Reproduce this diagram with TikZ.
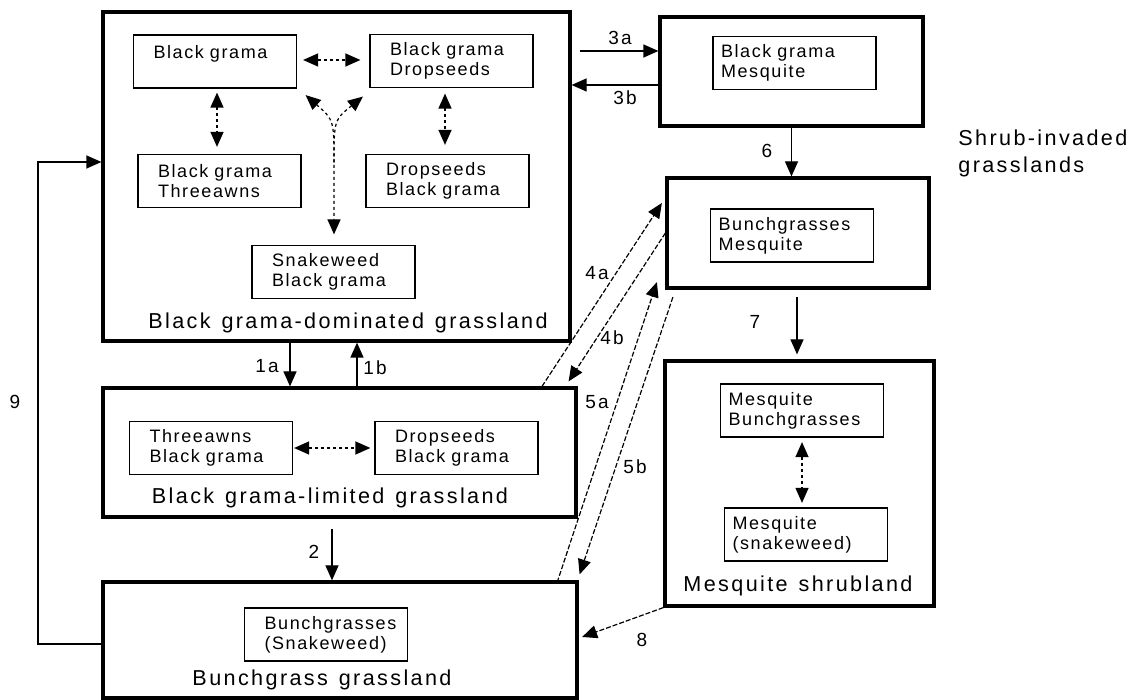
\documentclass[tikz,border=0pt]{standalone}
\usepackage{fontspec}
\setmainfont{Liberation Sans}
\newfontfamily\gridfont{Liberation Sans}[LetterSpace=9,WordSpace=1.8]
\newfontfamily\titlefont{Liberation Sans}[LetterSpace=11,WordSpace=1.3]
\usetikzlibrary{arrows.meta,calc}
\newcommand{\boxsize}{\gridfont\fontsize{9}{10}\selectfont\hyphenpenalty=10000}
\newcommand{\titlesize}{\titlefont\fontsize{10.8}{13.5}\selectfont}
\newcommand{\numsize}{\titlefont\fontsize{9.5}{11}\selectfont}

\begin{document}
\begin{tikzpicture}[
  x=0.5pt,
  y=-0.5pt,
  >={Triangle[length=7.5pt,width=6.5pt]},
  every node/.style={text=black},
  zone/.style={draw, line width=1.6pt, inner sep=0pt},
  stateL/.style={draw, line width=0.6pt, minimum height=26.5pt,
                 inner xsep=10pt, text width=61.5pt, align=left, font=\boxsize},
  stateR/.style={draw, line width=0.6pt, minimum height=26.5pt,
                 inner xsep=4pt, text width=73.5pt, align=left, font=\boxsize},
  zonelabel/.style={font=\titlesize, inner sep=0pt},
  numlabel/.style={font=\numsize, inner sep=0pt},
  conn/.style={line width=0.6pt, ->},
  dashconn/.style={line width=0.6pt, ->, dash pattern=on 2.5pt off 1pt},
  twoway/.style={line width=0.6pt, <->, dash pattern=on 1.5pt off 1.5pt},
  oneend/.style={line width=0.6pt, <-, dash pattern=on 1.5pt off 1.5pt}
]
  \useasboundingbox (0,0) rectangle (1132,700);

  % ---- zones ----
  \node[zone, minimum width=233.5pt, minimum height=164.5pt] (dom)   at (336.5,176.5) {};
  \node[zone, minimum width=236.5pt, minimum height=64.5pt]  (lim)   at (339.5,452.5) {};
  \node[zone, minimum width=237pt,   minimum height=58pt]    (bunch) at (340,640) {};
  \node[zone, minimum width=131.5pt, minimum height=54.5pt]  (invA)  at (791.5,71.5) {};
  \node[zone, minimum width=131pt,   minimum height=55pt]    (invB)  at (798,233) {};
  \node[zone, minimum width=134.5pt, minimum height=122.5pt] (shrub) at (799.5,483.5) {};

  % ---- zone names ----
  \node[zonelabel] (domlab)   at (348,323) {Black grama-dominated grassland};
  \node[zonelabel] (limlab)   at (330,498) {Black grama-limited grassland};
  \node[zonelabel] (bunchlab) at (322,680) {Bunchgrass grassland};
  \node[zonelabel] (shrublab) at (798,586) {Mesquite shrubland};
  \node[zonelabel, anchor=west, align=left] (invlab) at (958,153.5)
    {Shrub-invaded\\grasslands};

  % ---- states inside the zones ----
  \node[stateL] (bg)       at (215,61.5)   {Black grama\\~};
  \node[stateL] (bgdrop)   at (451.5,61)   {Black grama\\Dropseeds};
  \node[stateL] (bgthree)  at (219.5,181)  {Black grama\\Threeawns};
  \node[stateL] (dropbg)   at (447.5,181)  {Dropseeds\\Black grama};
  \node[stateL] (snake)    at (333.5,272)  {Snakeweed\\Black grama};
  \node[stateL] (three)    at (211,448)    {Threeawns\\Black grama};
  \node[stateL] (drop2)    at (456.5,448)  {Dropseeds\\Black grama};
  \node[stateL] (bunchmix) at (326,634.5)  {Bunchgrasses\\(Snakeweed)};
  \node[stateR] (bgmes)    at (794.5,63)   {Black grama\\Mesquite};
  \node[stateR] (bunchmes) at (792,235.5)  {Bunchgrasses\\Mesquite};
  \node[stateR] (mesbunch) at (802,410.5)  {Mesquite\\Bunchgrasses};
  \node[stateR] (messnake) at (806,534.5)  {Mesquite\\(snakeweed)};

  % ---- shifts between states ----
  \draw[twoway] ($(bg.east)+(6,-1.5)$) -- ($(bgdrop.west)+(-9,-1)$);
  \draw[twoway] ($(bg.south)+(2,4)$) -- ($(bgthree.north)+(-2.5,-7)$);
  \draw[twoway] ($(bgdrop.south)+(-6.5,5.5)$) -- ($(dropbg.north)+(-2.5,-9)$);
  \coordinate (fork) at (334,165);
  \draw[twoway] ($(bg.south east)+(8.5,6.5)$) .. controls ($(fork)+(0,-45)$) .. (fork)
    -- ($(snake.north)+(0.5,-10.5)$);
  \draw[oneend] ($(bgdrop.south west)+(-6.5,8.5)$) .. controls ($(fork)+(0,-45)$) .. (fork);
  \draw[twoway] ($(three.east)+(1,0)$) -- ($(drop2.west)+(-4,0)$);
  \draw[twoway] ($(mesbunch.south)+(0,4.5)$) -- ($(messnake.north)+(-4,-4.5)$);

  % ---- transitions between zones ----
  \draw[conn] ($(dom.south)+(-46.5,0)$) -- ($(lim.north)+(-49.5,0)$);
  \draw[conn] ($(lim.north)+(17.5,0)$) -- ($(dom.south)+(20.5,0)$);
  \draw[conn] ($(lim.south)+(-7.5,10)$) -- ($(bunch.north)+(-8,0)$);
  \draw[conn] ($(dom.east |- invA.west)+(8,-20.5)$) -- ($(invA.west)+(0,-20.5)$);
  \draw[conn] ($(invA.west)+(0,13.5)$) -- ($(dom.east |- invA.west)+(0,13.5)$);
  \draw[dashconn] ($(lim.north)+(202.5,0)$) -- ($(invB.west)+(-3.5,-30)$);
  \draw[dashconn] (invB.west) -- ($(lim.north east)+(-9,-5)$);
  \draw[dashconn] ($(bunch.north east)+(-21.5,2)$) -- ($(invB.south west)+(-8.5,-7.5)$);
  \draw[dashconn] ($(invB.south west)+(7.5,7.5)$) -- ($(bunch.north east)+(1,-6)$);
  \draw[conn] (invA.south) -- (invA.south |- invB.north);
  \draw[conn] ($(invB.south)+(-1,7)$) -- ($(invB.south |- shrub.north)+(-1,-5)$);
  \draw[dashconn] (shrub.south west) -- ($(bunch.east)+(3.5,-3)$);
  \draw[conn] ($(bunch.west)+(0,4)$) -| ($(dom.west)+(-63.5,-14.5)$)
    -- ($(dom.west)+(0,-14.5)$);

  % ---- transition numbers ----
  \node[numlabel] (n1a) at (267,366) {1a};
  \node[numlabel] (n1b) at (375,368) {1b};
  \node[numlabel] (n2)  at (314,552) {2};
  \node[numlabel] (n3a) at (620,38)  {3a};
  \node[numlabel] (n3b) at (625,98)  {3b};
  \node[numlabel] (n4a) at (597,273) {4a};
  \node[numlabel] (n4b) at (612,338) {4b};
  \node[numlabel] (n5a) at (597,402) {5a};
  \node[numlabel] (n5b) at (635,467) {5b};
  \node[numlabel] (n6)  at (767,151) {6};
  \node[numlabel] (n7)  at (755,322) {7};
  \node[numlabel] (n8)  at (642,640) {8};
  \node[numlabel] (n9)  at (15,402)  {9};
\end{tikzpicture}
\end{document}
